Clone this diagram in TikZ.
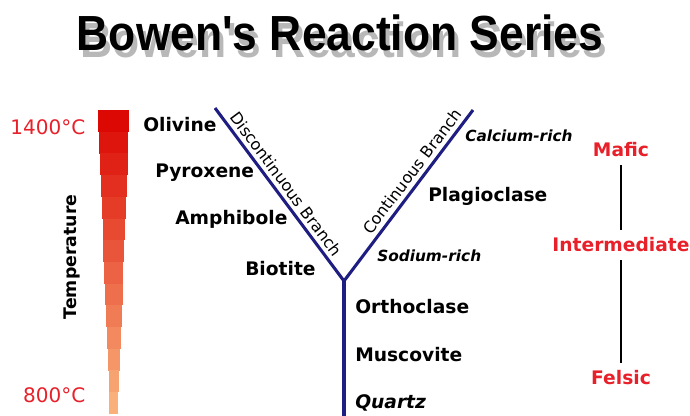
\documentclass[tikz,border=0pt]{standalone}
\usepackage{fontspec}
\setmainfont{DejaVu Sans}
\newfontfamily\titlefont{Liberation Sans}
\usetikzlibrary{positioning}
\definecolor{navy}{HTML}{1E1E82}
\definecolor{mred}{HTML}{E8202A}
\definecolor{hotred}{HTML}{DC0804}
\definecolor{coolorange}{HTML}{F9B07A}
\definecolor{shadowgray}{HTML}{B8B8B8}

\begin{document}
\begin{tikzpicture}[x=0.75pt,y=-0.75pt,
  mineral/.style={anchor=base west,inner sep=0pt,font=\bfseries\fontsize{14}{16}\selectfont},
  rich/.style={anchor=base west,inner sep=0pt,font=\bfseries\itshape\fontsize{11.5}{13}\selectfont},
  branch/.style={sloped,inner sep=3pt,font=\fontsize{12}{14}\selectfont},
  templbl/.style={anchor=east,text=mred,font=\fontsize{15}{17}\selectfont},
  kind/.style={text=mred,inner sep=6pt,font=\bfseries\fontsize{14}{16}\selectfont},
  ybranch/.style={draw=navy,line width=2.3pt},
  titletext/.style={xscale=0.9,font=\titlefont\bfseries\fontsize{37}{40}\selectfont}]
  \useasboundingbox (0,0) rectangle (690,415);
  % title with drop shadow
  \node[titletext,text=shadowgray] (titleshadow) at (344,40) {Bowen's Reaction Series};
  \node[titletext] (title) at (340,33) {Bowen's Reaction Series};
  % temperature bar
  \foreach \i in {0,...,13}{
    \pgfmathsetmacro\ya{110+\i*21.7}
    \pgfmathsetmacro\yb{\ya+21.8}
    \pgfmathsetmacro\hw{15.5-\i*0.85}
    \pgfmathsetmacro\p{\i/13*100}
    \fill[coolorange!\p!hotred] (113.8-\hw,\ya) rectangle (113.8+\hw,\yb);
  }
  \node[templbl] (hot) at (90,127) {1400°C};
  \node[templbl] (cool) at (90,395) {800°C};
  \node[rotate=90,font=\bfseries\fontsize{13}{15}\selectfont] (templabel) at (72,257) {Temperature};
  % the Y
  \coordinate (ltop) at (215,108);
  \coordinate (fork) at (344,281);
  \coordinate (rtop) at (473,110);
  \coordinate (base) at (344,416);
  \draw[ybranch] (ltop) -- node[branch,pos=0.48,above] (disc) {Discontinuous Branch} (fork)
    -- node[branch,pos=0.6,above] (cont) {Continuous Branch} (rtop);
  \draw[ybranch] (fork) -- (base);
  % minerals
  \node[mineral] (olivine) at (143,131) {Olivine};
  \node[mineral] (pyroxene) at (155,177) {Pyroxene};
  \node[mineral] (amphibole) at (175,224) {Amphibole};
  \node[mineral] (biotite) at (245,275) {Biotite};
  \node[rich] (calcium) at (465,141) {Calcium-rich};
  \node[mineral] (plagio) at (428,201) {Plagioclase};
  \node[rich] (sodium) at (377,261) {Sodium-rich};
  \node[mineral] (ortho) at (355,313) {Orthoclase};
  \node[mineral] (musco) at (355,361) {Muscovite};
  \node[mineral,font=\bfseries\itshape\fontsize{14}{16}\selectfont] (quartz) at (355,408) {Quartz};
  % composition scale
  \node[kind] (mafic) at (621,150) {Mafic};
  \node[kind] (inter) at (621,245) {Intermediate};
  \node[kind] (felsic) at (621,378) {Felsic};
  \draw[line width=2pt] (mafic) -- (inter);
  \draw[line width=2pt] (inter) -- (felsic);
\end{tikzpicture}
\end{document}
